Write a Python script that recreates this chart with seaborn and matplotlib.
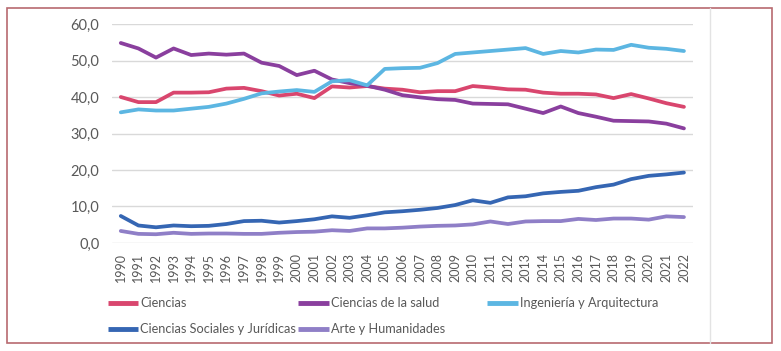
import numpy as np
import pandas as pd
import matplotlib.pyplot as plt
import seaborn as sns
from matplotlib.lines import Line2D
from matplotlib.patches import Rectangle

sns.set_style("white")
plt.rcParams['font.family'] = ['Lato', 'DejaVu Sans']

years = list(range(1990, 2023))

ciencias = [40.0, 38.6, 38.6, 41.2, 41.2, 41.3, 42.3, 42.5, 41.6, 40.4, 40.9, 39.7, 42.9, 42.6, 43.0, 42.3, 42.0,
            41.3, 41.6, 41.6, 43.0, 42.6, 42.1, 42.0, 41.2, 40.9, 40.9, 40.7, 39.7, 40.8, 39.6, 38.3, 37.3]
salud = [54.8, 53.3, 50.8, 53.3, 51.5, 51.9, 51.6, 51.9, 49.4, 48.5, 46.0, 47.2, 44.8, 43.8, 43.1, 42.0, 40.5,
         39.9, 39.4, 39.2, 38.2, 38.1, 38.0, 36.8, 35.6, 37.4, 35.6, 34.6, 33.5, 33.4, 33.3, 32.7, 31.4]
ingenieria = [35.8, 36.6, 36.3, 36.3, 36.8, 37.3, 38.2, 39.5, 41.0, 41.5, 41.9, 41.4, 44.3, 44.6, 43.2, 47.7, 47.9,
              48.0, 49.3, 51.8, 52.2, 52.6, 53.0, 53.4, 51.8, 52.6, 52.2, 53.0, 52.9, 54.3, 53.5, 53.2, 52.6]
sociales = [7.4, 4.8, 4.3, 4.8, 4.6, 4.7, 5.2, 6.0, 6.1, 5.6, 6.0, 6.5, 7.3, 6.9, 7.6, 8.4, 8.7,
            9.1, 9.6, 10.4, 11.7, 11.0, 12.5, 12.8, 13.6, 14.0, 14.3, 15.3, 16.0, 17.5, 18.4, 18.8, 19.3]
arte = [3.3, 2.5, 2.4, 2.8, 2.5, 2.6, 2.6, 2.5, 2.5, 2.8, 3.0, 3.1, 3.5, 3.3, 4.0, 4.0, 4.2,
        4.5, 4.7, 4.8, 5.1, 5.9, 5.2, 5.9, 6.0, 6.0, 6.6, 6.3, 6.7, 6.7, 6.4, 7.3, 7.1]

nombres = ['Ciencias', 'Ciencias de la salud', 'Ingeniería y Arquitectura',
           'Ciencias Sociales y Jurídicas', 'Arte y Humanidades']
colores = ['#d9466e', '#8a3f9e', '#5cb6e2', '#3566b3', '#8f7fc7']

df = pd.DataFrame({'Año': years, nombres[0]: ciencias, nombres[1]: salud, nombres[2]: ingenieria,
                   nombres[3]: sociales, nombres[4]: arte})
df = df.melt('Año', var_name='Rama', value_name='Valor')
df['pos'] = df['Año'] - 1990

fig = plt.figure(figsize=(7.81, 3.51), dpi=100)
ax = fig.add_axes([0.1434, 0.3077, 0.7436, 0.6239])

sns.lineplot(data=df, x='pos', y='Valor', hue='Rama', hue_order=nombres, palette=colores,
             linewidth=2.7, ax=ax, legend=False)

ax.set_xlim(-0.5, len(years) - 0.5)
ax.set_ylim(0, 60)
ax.set_yticks(np.arange(0, 61, 10))
ax.set_yticklabels([f'{v:.1f}'.replace('.', ',') for v in range(0, 61, 10)], fontsize=10.5, color='#595959')
ax.set_xticks(range(len(years)))
ax.set_xticklabels([str(y) for y in years], rotation=90, fontsize=9, color='#595959')
ax.tick_params(axis='y', length=0, pad=9)
ax.tick_params(axis='x', length=0, pad=7)
ax.yaxis.grid(True, color='#d9d9d9', linewidth=1)
ax.set_axisbelow(True)
for s in ax.spines.values():
    s.set_visible(False)
ax.set_xlabel('')
ax.set_ylabel('')

# legend: 3 columns of equal width, Excel style
cols = [[0, 3], [1, 4], [2]]
xs = [0.138, 0.3816, 0.6236]
for xi, grupo in zip(xs, cols):
    hs = [Line2D([], [], color=colores[i], lw=3.5, solid_capstyle='butt') for i in grupo]
    fig.legend(hs, [nombres[i] for i in grupo], loc='upper left', bbox_to_anchor=(xi, 0.153),
               frameon=False, fontsize=9.2, handlelength=2.4, handletextpad=0.15,
               labelspacing=1.1, borderaxespad=0, borderpad=0, labelcolor='#595959')

# chart frame and side line
fig.add_artist(Rectangle((0.009, 0.023), 0.980, 0.954, transform=fig.transFigure,
                         fill=False, edgecolor='#b86a70', linewidth=1.2))
fig.add_artist(Line2D([0.909, 0.909], [0.023, 0.977], transform=fig.transFigure,
                      color='#e3e3e3', linewidth=1))

fig.savefig('out.png', dpi=100)
